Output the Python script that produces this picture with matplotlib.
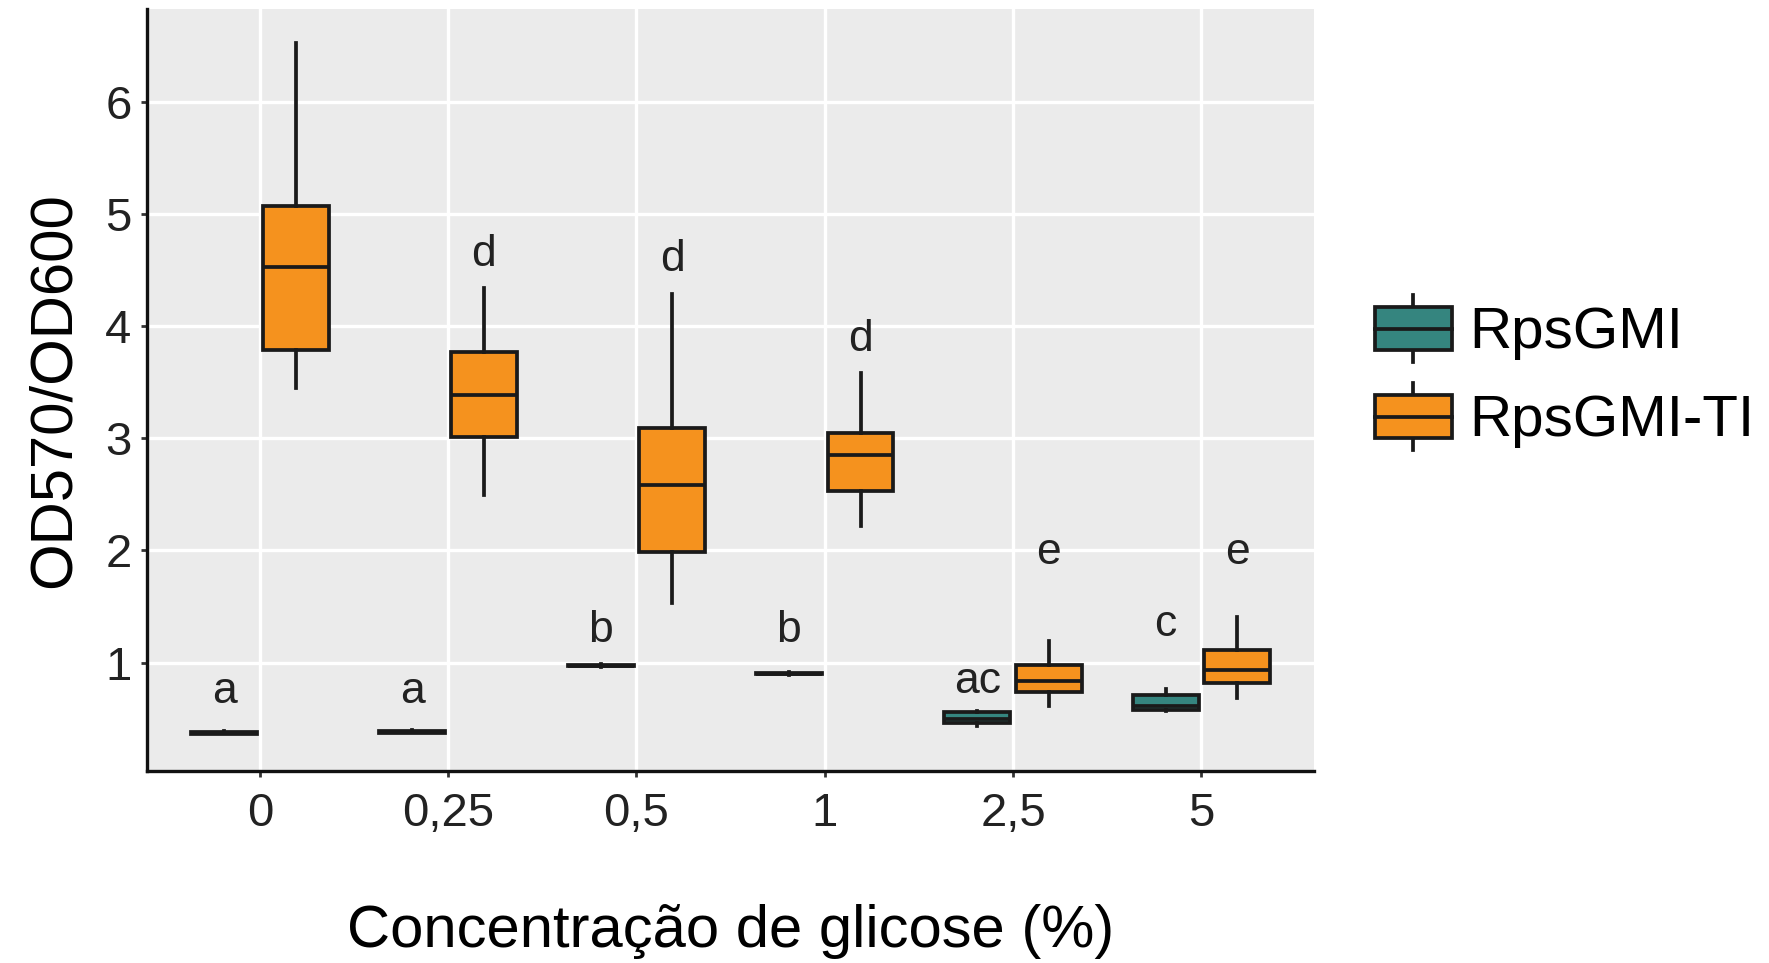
import matplotlib
matplotlib.use("Agg")
import numpy as np
from matplotlib import pyplot as plt
from matplotlib.legend_handler import HandlerBase
from matplotlib.patches import Rectangle
from matplotlib.lines import Line2D

plt.rcParams['font.family'] = ['Liberation Sans', 'DejaVu Sans']

# data
groups = ["0", "0,25", "0,5", "1", "2,5", "5"]
series = ["RpsGMI", "RpsGMI-TI"]

gmi_low = [0.36, 0.37, 0.96, 0.89, 0.43, 0.57]
gmi_q1 = [0.365, 0.375, 0.965, 0.895, 0.46, 0.58]
gmi_med = [0.375, 0.38, 0.97, 0.90, 0.50, 0.61]
gmi_q3 = [0.385, 0.39, 0.98, 0.91, 0.56, 0.71]
gmi_high = [0.39, 0.40, 0.99, 0.92, 0.57, 0.76]

ti_low = [3.45, 2.49, 1.53, 2.22, 0.61, 0.68]
ti_q1 = [3.79, 3.01, 1.99, 2.53, 0.74, 0.82]
ti_med = [4.53, 3.39, 2.58, 2.85, 0.84, 0.93]
ti_q3 = [5.07, 3.77, 3.09, 3.05, 0.98, 1.11]
ti_high = [6.52, 4.34, 4.29, 3.58, 1.19, 1.41]

gmi_letters = ["a", "a", "b", "b", "ac", "c"]
gmi_letter_y = [0.74, 0.74, 1.29, 1.29, 0.83, 1.34]
ti_letters = ["", "d", "d", "d", "e", "e"]
ti_letter_y = [0, 4.64, 4.59, 3.88, 1.98, 1.98]

colors = ["#35857F", "#F5921E"]
edge = "#1a1a1a"
lw = 2.7


def make_stats(low, q1, med, q3, high):
    return [dict(whislo=a, q1=b, med=c, q3=d, whishi=e, fliers=[])
            for a, b, c, d, e in zip(low, q1, med, q3, high)]


class BoxHandler(HandlerBase):
    def create_artists(self, legend, orig_handle, xdescent, ydescent,
                       width, height, fontsize, trans):
        color = orig_handle.get_facecolor()
        bh = height * 0.65
        y0 = -ydescent + (height - bh) / 2
        x0 = -xdescent
        xc = x0 + width / 2
        wl = Line2D([xc, xc], [-ydescent, -ydescent + height], color=edge, lw=lw, transform=trans)
        rect = Rectangle((x0, y0), width, bh, facecolor=color, edgecolor=edge, lw=lw, transform=trans)
        med = Line2D([x0, x0 + width], [y0 + bh / 2, y0 + bh / 2], color=edge, lw=lw, transform=trans)
        return [wl, rect, med]


fig = plt.figure(figsize=(17.69, 9.63), dpi=100)
ax = fig.add_axes([0.083, 0.199, 0.66, 0.792])
ax.set_facecolor("#EBEBEB")

pos = np.arange(len(groups))
offset = 0.19
bw = 0.35
all_stats = [make_stats(gmi_low, gmi_q1, gmi_med, gmi_q3, gmi_high),
             make_stats(ti_low, ti_q1, ti_med, ti_q3, ti_high)]
for k, stats in enumerate(all_stats):
    ax.bxp(stats, positions=pos + (k * 2 - 1) * offset, widths=bw,
           patch_artist=True, showcaps=False, showfliers=False,
           boxprops=dict(facecolor=colors[k], edgecolor=edge, lw=lw),
           whiskerprops=dict(color=edge, lw=lw),
           medianprops=dict(color=edge, lw=lw),
           manage_ticks=False, zorder=3)

for i in range(len(groups)):
    if gmi_letters[i]:
        ax.text(pos[i] - offset, gmi_letter_y[i], gmi_letters[i], ha="center", va="center",
                fontsize=32, color="#222222", zorder=4)
    if ti_letters[i]:
        ax.text(pos[i] + offset, ti_letter_y[i], ti_letters[i], ha="center", va="center",
                fontsize=32, color="#222222", zorder=4)

ax.set_xlim(-0.6, 5.6)
ax.set_ylim(0.03, 6.83)
ax.set_xticks(pos)
ax.set_xticklabels(groups)
ax.set_yticks([1, 2, 3, 4, 5, 6])
ax.grid(True, color="white", lw=2.4, zorder=0)
ax.set_axisbelow(True)
for s in ["top", "right"]:
    ax.spines[s].set_visible(False)
for s in ["left", "bottom"]:
    ax.spines[s].set_linewidth(2.4)
    ax.spines[s].set_color("#111111")
ax.tick_params(axis="both", length=4, width=2, color="#333333", labelsize=34, labelcolor="#222222")
ax.tick_params(axis="x", pad=11)
ax.tick_params(axis="y", pad=7)
ax.set_xlabel("Concentração de glicose (%)", fontsize=43, labelpad=49)
ax.set_ylabel("OD570/OD600", fontsize=43, labelpad=17)

handles = [Rectangle((0, 0), 1, 1, facecolor=c) for c in colors]
fig.legend(handles, series, handler_map={Rectangle: BoxHandler()},
           loc="center left", bbox_to_anchor=(0.777, 0.613), frameon=False,
           fontsize=42, handlelength=1.32, handleheight=1.39, labelspacing=0.36,
           handletextpad=0.3, borderpad=0, borderaxespad=0)

fig.savefig("out.png", dpi=100)
